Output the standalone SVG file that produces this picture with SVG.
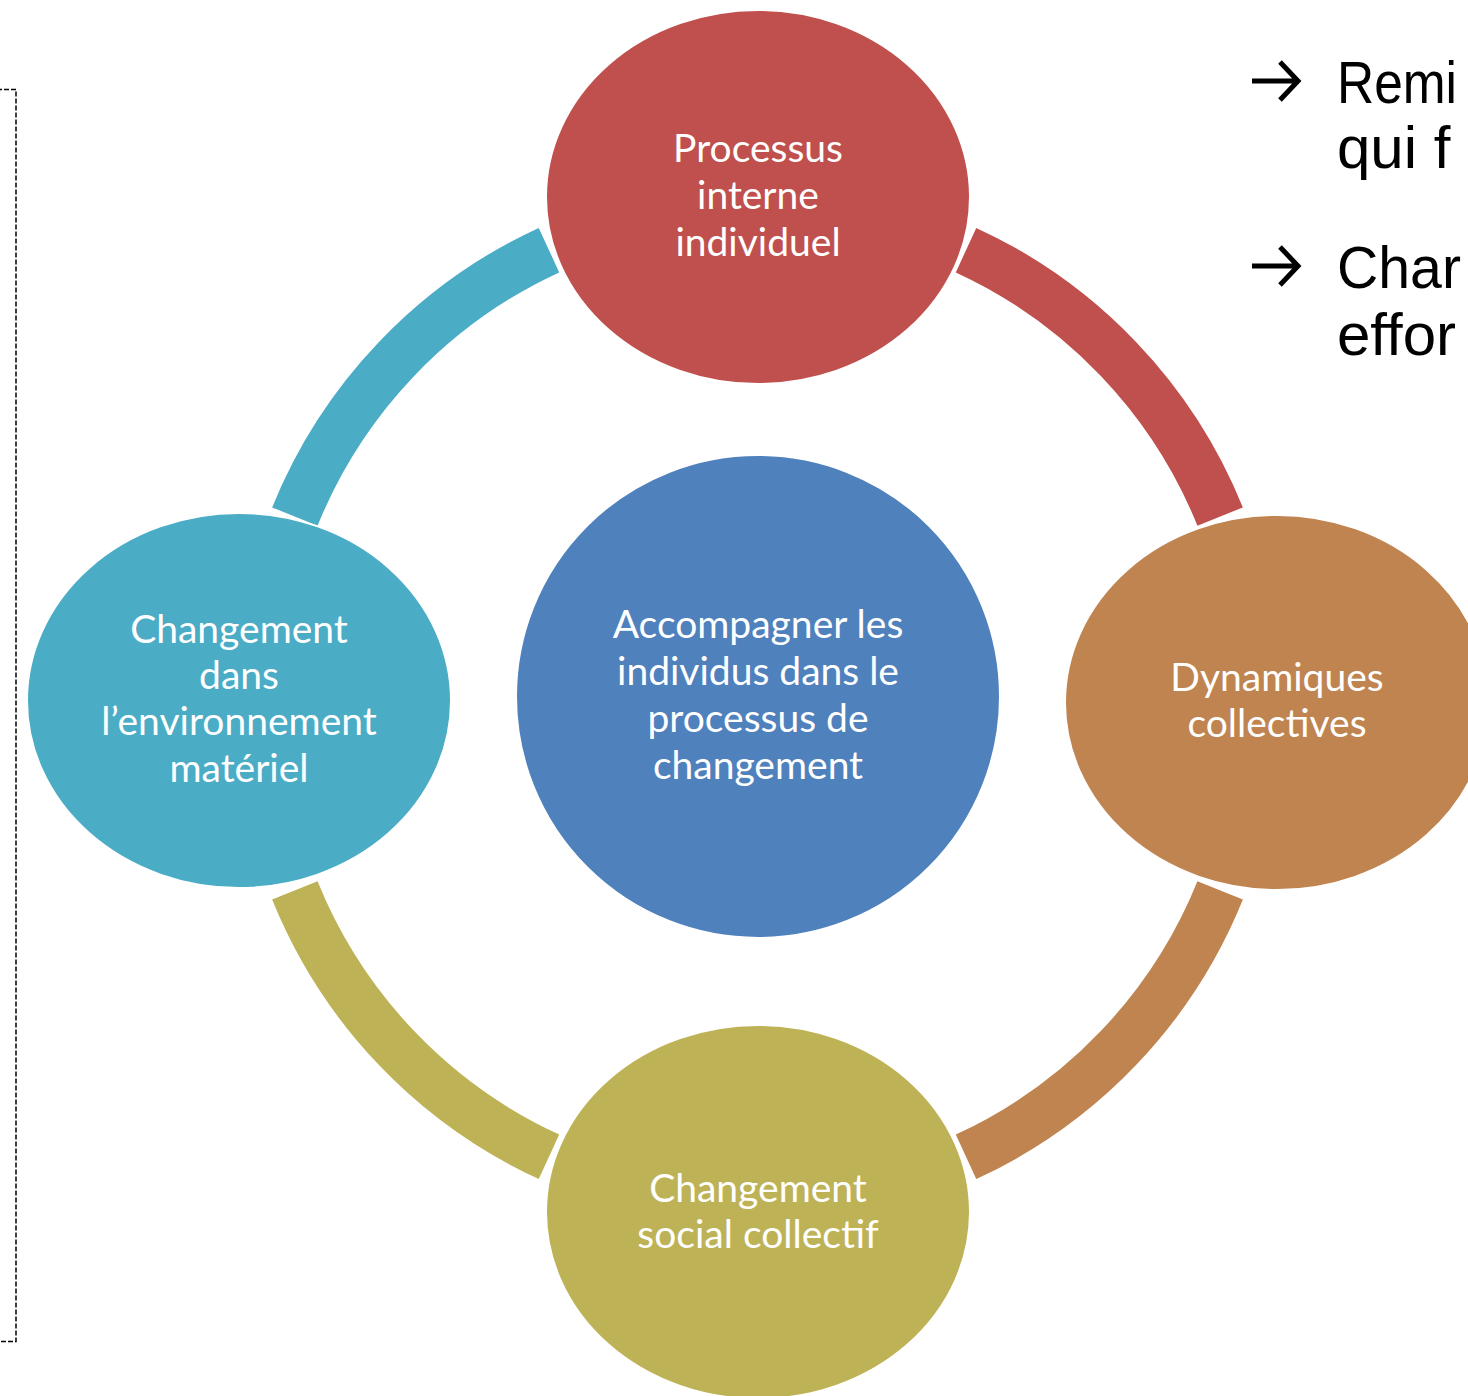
<svg xmlns="http://www.w3.org/2000/svg" width="1468" height="1396" viewBox="0 0 1468 1396">
<style>
.arc{fill:none;stroke-width:49;stroke-linecap:butt}
.node{stroke:#fff;stroke-width:2}
.lbl{font-family:Lato,"Liberation Sans",sans-serif;font-size:39px;fill:#fff;text-anchor:middle}
.side{font-family:"Liberation Sans","DejaVu Sans",sans-serif;font-size:60px;fill:#000}
.arrow{fill:none;stroke:#000;stroke-width:5}
</style>
<rect x="0" y="0" width="1468" height="1396" fill="#fff"/>
<rect id="frame" x="-10" y="89.5" width="26" height="1252" fill="none" stroke="#000" stroke-width="1.5" stroke-dasharray="5 2"/>
<g id="connectors">
<path class="arc" stroke="#C0504D" d="M 966.02 250.15 A 499 499 0 0 1 1220.16 516.57"/>
<path class="arc" stroke="#C08450" d="M 1220.16 890.43 A 499 499 0 0 1 966.02 1156.85"/>
<path class="arc" stroke="#BEB257" d="M 548.98 1156.85 A 499 499 0 0 1 294.84 890.43"/>
<path class="arc" stroke="#4BACC6" d="M 294.84 516.57 A 499 499 0 0 1 548.98 250.15"/>
</g>
<g id="center">
<ellipse class="node" cx="758" cy="696.5" rx="242" ry="241.5" fill="#4F81BD"/>
<text class="lbl" x="758" y="638">Accompagner les</text>
<text class="lbl" x="758" y="685">individus dans le</text>
<text class="lbl" x="758" y="732">processus de</text>
<text class="lbl" x="758" y="779">changement</text>
</g>
<g id="top">
<ellipse class="node" cx="758" cy="197" rx="212" ry="187" fill="#C0504D"/>
<text class="lbl" x="758" y="162">Processus</text>
<text class="lbl" x="758" y="209">interne</text>
<text class="lbl" x="758" y="256">individuel</text>
</g>
<g id="right">
<ellipse class="node" cx="1277" cy="702.5" rx="212" ry="187.5" fill="#C08450"/>
<text class="lbl" x="1277" y="691">Dynamiques</text>
<text class="lbl" x="1277" y="737">collectives</text>
</g>
<g id="bottom">
<ellipse class="node" cx="758" cy="1212" rx="212" ry="187" fill="#BEB257"/>
<text class="lbl" x="758" y="1202">Changement</text>
<text class="lbl" x="758" y="1248">social collectif</text>
</g>
<g id="left">
<ellipse class="node" cx="239" cy="700.5" rx="212" ry="187.5" fill="#4BACC6"/>
<text class="lbl" x="239" y="643">Changement</text>
<text class="lbl" x="239" y="689">dans</text>
<text class="lbl" x="239" y="735">l’environnement</text>
<text class="lbl" x="239" y="782">matériel</text>
</g>
<g id="side-text">
<path class="arrow" d="M 1252 81 H 1297 M 1280 62 L 1298 81 L 1280 100"/>
<text class="side" x="1337" y="103" textLength="120" lengthAdjust="spacingAndGlyphs">Remi</text>
<text class="side" x="1337" y="168">qui f</text>
<path class="arrow" d="M 1252 266 H 1297 M 1280 247 L 1298 266 L 1280 285"/>
<text class="side" x="1337" y="288" textLength="124" lengthAdjust="spacingAndGlyphs">Char</text>
<text class="side" x="1337" y="355">effor</text>
</g>
</svg>
